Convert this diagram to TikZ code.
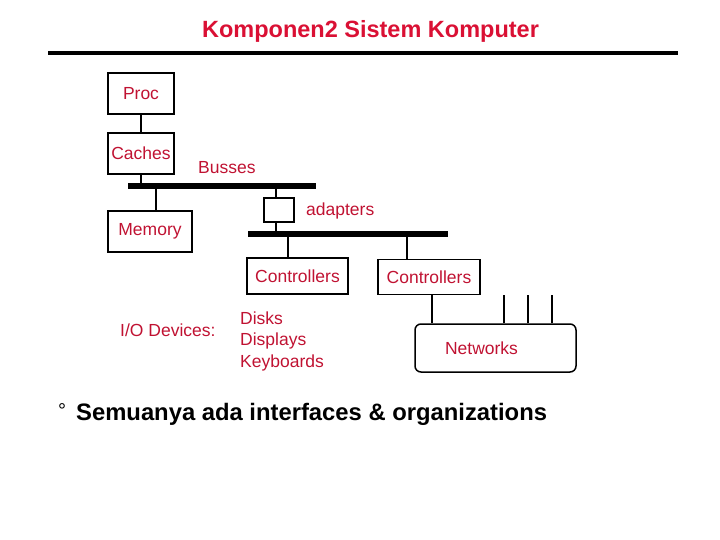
\documentclass[tikz,border=0pt]{standalone}
\usepackage{fontspec}
\setmainfont{Liberation Sans}
\usetikzlibrary{positioning}
\definecolor{titlered}{RGB}{218,16,52}
\definecolor{labelred}{RGB}{192,18,50}
\tikzset{
  box/.style={draw, line width=1.5pt, inner sep=0pt, text=labelred, font=\fontsize{17.5}{21}\selectfont},
  lbl/.style={text=labelred, inner sep=0pt, font=\fontsize{17.5}{21.5}\selectfont},
  bus/.style={line width=6pt},
  wire/.style={line width=1.5pt}
}
\begin{document}
\begin{tikzpicture}[x=1pt, y=-1pt]
  \useasboundingbox (0,0) rectangle (720,540);
  \node[text=titlered, font=\fontsize{23.5}{28}\selectfont\bfseries] (title) at (370.5,31) {Komponen2 Sistem Komputer};
  \draw[line width=4pt] (48,53) -- (678,53);

  \node[box, minimum width=66, minimum height=41] (proc) at (141,93.5) {Proc};
  \node[box, minimum width=66, minimum height=41] (cache) at (141,153.5) {Caches};
  \node[box, minimum width=84, minimum height=41] (mem) at (150,231.5) {Memory};
  \node[box, minimum width=30, minimum height=24] (adapt) at (279,210) {};
  \node[box, minimum width=101, minimum height=36] (ctrlA) at (297.5,276) {Controllers};
  \node[box, minimum width=102, minimum height=35] (ctrlB) at (429,277) {Controllers};
  \node[box, rounded corners=6pt, minimum width=161, minimum height=48] (net) at (495.5,348) {};
  \node[lbl] (netlbl) at ([xshift=-14]net.center) {Networks};

  \coordinate (busAw) at (128,186);
  \coordinate (busAe) at (316,186);
  \coordinate (busBw) at (248,234);
  \coordinate (busBe) at (448,234);
  \draw[bus] (busAw) -- (busAe);
  \draw[bus] (busBw) -- (busBe);

  \node[lbl, anchor=west] (busses) at (198,168) {Busses};
  \node[lbl, anchor=west] (adlbl) at (306,211) {adapters};
  \node[lbl, anchor=west] (iolbl) at (120,330) {I/O Devices:};
  \node[lbl, anchor=west, align=left] (devs) at (240,341) {Disks\\Displays\\Keyboards};

  \draw[wire] (proc) -- (cache);
  \draw[wire] (cache.south) -- (cache.south |- busAw);
  \draw[wire] ([xshift=6]mem.north) -- ([xshift=6]mem.north |- busAw);
  \draw[wire] ([xshift=-3]adapt.north) -- ([xshift=-3]adapt.north |- busAw);
  \draw[wire] ([xshift=-3]adapt.south) -- ([xshift=-3]adapt.south |- busBw);
  \draw[wire] ([xshift=-9.5]ctrlA.north) -- ([xshift=-9.5]ctrlA.north |- busBw);
  \draw[wire] ([xshift=-22]ctrlB.north) -- ([xshift=-22]ctrlB.north |- busBw);
  \draw[wire] ([xshift=3]ctrlB.south) -- ([xshift=3]ctrlB.south |- net.north);
  \foreach \dx in {8.5,32.5,56.5}
    \draw[wire] ([xshift=\dx]net.north) -- ([xshift=\dx]net.north |- ctrlB.south);

  \node[inner sep=0pt, font=\fontsize{20}{22}\selectfont] (bullet) at (62,411) {°};
  \node[inner sep=0pt, anchor=west, font=\fontsize{23.8}{28}\selectfont\bfseries] (note) at (76,414) {Semuanya ada interfaces \& organizations};
\end{tikzpicture}
\end{document}
